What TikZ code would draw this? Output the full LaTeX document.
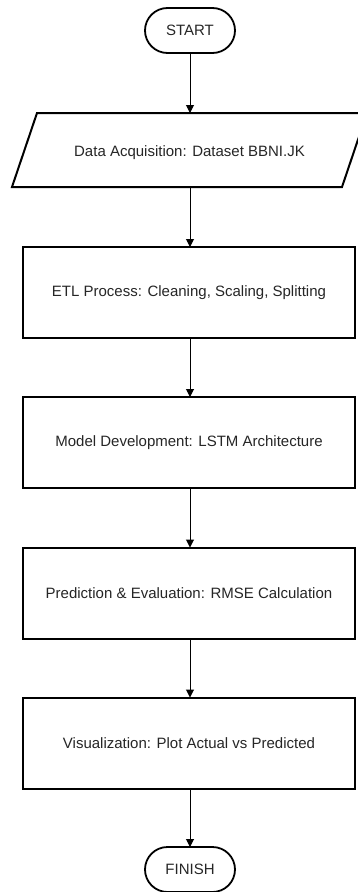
\documentclass[tikz,border=0pt]{standalone}
\usepackage{fontspec}
\setmainfont{Liberation Sans}
\usetikzlibrary{arrows.meta}
\begin{document}
\begin{tikzpicture}[x=1bp,y=-1bp,
  every node/.style={font=\fontsize{15bp}{18bp}\selectfont, text=black!85, outer sep=0pt, inner sep=0pt},
  term/.style={draw=black, line width=1.8bp, rounded corners=22.5bp, minimum width=90bp, minimum height=45bp},
  procbox/.style={draw=black, line width=2bp, minimum width=332bp, minimum height=91bp},
  iobox/.style={minimum width=330bp, minimum height=74bp},
  flow/.style={draw=black, line width=1bp, -{Triangle[length=8bp,width=8bp]}}]
\useasboundingbox (0,0) rectangle (357,892);
\fill[white] (0,0) rectangle (357,892);
\node[term] (start) at (190,30.5) {START};
\node[iobox] (data) at (189.5,150) {};
\draw[line width=2bp, line join=miter] ([xshift=12.5bp]data.north west) -- ([xshift=12.5bp]data.north east) -- ([xshift=-12.5bp]data.south east) -- ([xshift=-12.5bp]data.south west) -- cycle;
\node at (189.5,153) (datatext) {Data Acquisition: Dataset BBNI.JK};
\node[procbox] (etl) at (189,292.5) {ETL Process: Cleaning, Scaling, Splitting};
\node[procbox] (model) at (189,442.5) {Model Development: LSTM Architecture};
\node[procbox] (pred) at (189,593) {Prediction \& Evaluation: RMSE Calculation};
\node[procbox] (vis) at (189,743) {Visualization: Plot Actual vs Predicted};
\node[term] (finish) at (190,869.5) {FINISH};
\draw[flow] (start.south) -- (data.north -| start.south);
\draw[flow] (data.south -| start.south) -- (etl.north -| start.south);
\draw[flow] (etl.south -| start.south) -- (model.north -| start.south);
\draw[flow] (model.south -| start.south) -- (pred.north -| start.south);
\draw[flow] (pred.south -| start.south) -- (vis.north -| start.south);
\draw[flow] (vis.south -| start.south) -- (finish.north);
\end{tikzpicture}
\end{document}
